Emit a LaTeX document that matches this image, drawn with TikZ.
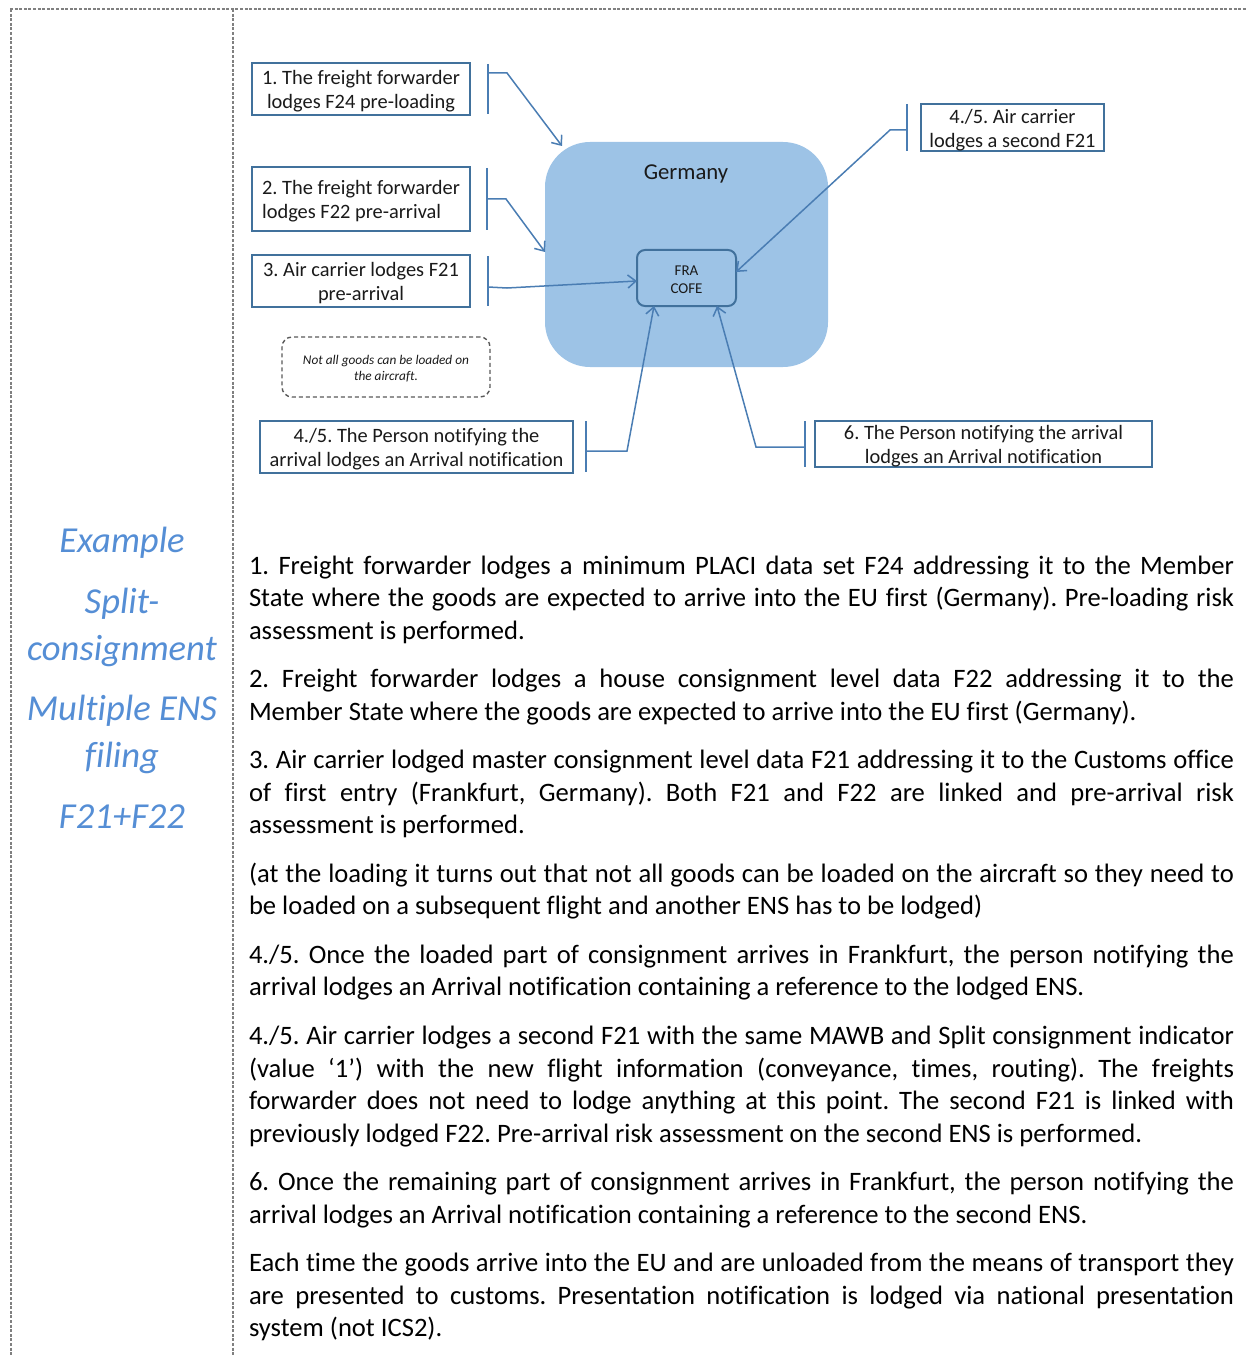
\documentclass[tikz,border=0pt]{standalone}
\usepackage{fontspec}
\setmainfont{Carlito}[Ligatures=NoCommon]
\usetikzlibrary{arrows.meta}

\definecolor{framegray}{HTML}{808080}
\definecolor{boxedge}{HTML}{41719C}
\definecolor{linkblue}{HTML}{4A7DB3}
\definecolor{landfill}{HTML}{9DC3E6}
\definecolor{titleblue}{HTML}{558ED5}
\definecolor{notegray}{HTML}{595959}
\definecolor{inktext}{HTML}{1A1A1A}

\begin{document}
\frenchspacing
\begin{tikzpicture}[x=1pt,y=-1pt,
  every node/.style={inner sep=0pt, outer sep=0pt},
  frame/.style={draw=framegray, line width=1.3pt, dash pattern=on 3pt off 1.6pt},
  title/.style={text=titleblue, font=\fontsize{36.6}{47}\selectfont\itshape, anchor=base},
  fbox/.style={draw=boxedge, line width=1.8pt, fill=white},
  btext/.style={align=center, text=inktext, font=\fontsize{20.4}{24}\selectfont},
  note/.style={draw=notegray, line width=1.4pt, dash pattern=on 4pt off 3pt,
    rounded corners=10pt},
  ntext/.style={align=center, text=inktext, font=\fontsize{13.3}{16}\selectfont\itshape},
  land/.style={fill=landfill, rounded corners=45pt},
  cofe/.style={draw=boxedge, line width=2pt, fill=landfill, rounded corners=8pt},
  ctext/.style={align=center, text=inktext, font=\fontsize{15}{18}\selectfont},
  bracket/.style={draw=linkblue, line width=1.8pt},
  link/.style={draw=linkblue, line width=1.5pt,
    -{Straight Barb[length=8pt,width=13pt]}}
]
\useasboundingbox (0,0) rectangle (1246,1356);

% table frame
\draw[frame] (10,9) -- (1246,9);
\draw[frame] (11,9) -- (11,1356);
\draw[frame] (233,9) -- (233,1356);

% left column heading
\node[title] (h1) at (122,552) {Example};
\node[title] (h2) at (122,613) {Split-};
\node[title] (h3) at (122,660) {consignment};
\node[title] (h4) at (122,720) {Multiple ENS};
\node[title] (h5) at (122,767) {filing};
\node[title] (h6) at (122,828) {F21+F22};

% member state and office of first entry
\node[land, minimum width=283pt, minimum height=225pt] (de) at (686.5,254.5) {};
\node[text=inktext, font=\fontsize{22.7}{27}\selectfont] (delabel) at (686,174) {\strut Germany};
\node[cofe, minimum width=99pt, minimum height=56pt] (fra) at (686.5,278) {};
\node[ctext] (frat) at ([yshift=-2pt]fra.center) {FRA\\COFE};

% filings: frames
\node[fbox, minimum width=218pt, minimum height=52pt] (ff24) at (361,89) {};
\node[fbox, minimum width=218pt, minimum height=64pt] (ff22) at (361,199) {};
\node[fbox, minimum width=218pt, minimum height=52pt] (ac21) at (361,281) {};
\node[note, minimum width=208pt, minimum height=60pt] (nt) at (386,367) {};
\node[fbox, minimum width=183pt, minimum height=47pt] (ac2) at (1012.5,127.5) {};
\node[fbox, minimum width=313pt, minimum height=52pt] (pn45) at (416.5,447) {};
\node[fbox, minimum width=337pt, minimum height=46pt] (pn6) at (983.5,444) {};

% filings: wording
\node[btext] (ff24t) at ([yshift=-2.5pt]ff24.center) {1. The freight forwarder\\lodges F24 pre-loading};
\node[btext, align=left] (ff22t) at ([yshift=-2.5pt]ff22.center) {2. The freight forwarder\\lodges F22 pre-arrival};
\node[btext] (ac21t) at ([yshift=-2.5pt]ac21.center) {3. Air carrier lodges F21\\pre-arrival};
\node[ntext] (ntt) at ([yshift=-2pt]nt.center) {Not all goods can be loaded on\\the aircraft.};
\node[btext] (ac2t) at ([yshift=-2.5pt]ac2.center) {4./5. Air carrier\\lodges a second F21};
\node[btext] (pn45t) at ([yshift=-2.5pt]pn45.center) {4./5. The Person notifying the\\arrival lodges an Arrival notification};
\node[btext] (pn6t) at ([yshift=-2.5pt]pn6.center) {6. The Person notifying the arrival\\lodges an Arrival notification};

% bracket ends and elbows
\coordinate (b1t) at (488,64);  \coordinate (b1b) at (488,114);
\coordinate (e1a) at (488,73);  \coordinate (e1b) at (507,73);
\coordinate (t1)  at (562,146);
\coordinate (b2t) at (487,168); \coordinate (b2b) at (487,230);
\coordinate (e2a) at (487,199); \coordinate (e2b) at (506,199);
\coordinate (b3t) at (488,256); \coordinate (b3b) at (488,306);
\coordinate (e3a) at (488,287); \coordinate (e3b) at (507,288);
\coordinate (b4t) at (907,104); \coordinate (b4b) at (907,151);
\coordinate (e4a) at (907,130); \coordinate (e4b) at (890,130);
\coordinate (b5t) at (586,421); \coordinate (b5b) at (586,472);
\coordinate (e5a) at (586,451); \coordinate (e5b) at (627,451);
\coordinate (b6t) at (805,421); \coordinate (b6b) at (805,467);
\coordinate (e6a) at (805,447); \coordinate (e6b) at (756,447);

\draw[bracket] (b1t) -- (b1b);
\draw[bracket] (b2t) -- (b2b);
\draw[bracket] (b3t) -- (b3b);
\draw[bracket] (b4t) -- (b4b);
\draw[bracket] (b5t) -- (b5b);
\draw[bracket] (b6t) -- (b6b);

\draw[link] (e1a) -- (e1b) -- (t1);
\draw[link] (e2a) -- (e2b) -- ([yshift=2.5pt]de.west);
\draw[link] (e3a) -- (e3b) -- ([yshift=-3pt]fra.west);
\draw[link] (e4a) -- (e4b) -- ([yshift=6pt]fra.east);
\draw[link] (e5a) -- (e5b) -- ([xshift=-32.5pt]fra.south);
\draw[link] (e6a) -- (e6b) -- ([xshift=30.5pt]fra.south);

% explanatory text
\node[anchor=north west, text width=985pt, align=justify,
  font=\fontsize{26.6}{32.5}\selectfont] (body) at (249,551.25) {%
\setlength{\parskip}{16.1pt}\hyphenpenalty=10000\exhyphenpenalty=10000
\hbadness=10000\tolerance=10000
\strut 1. Freight forwarder lodges a minimum PLACI data set F24 addressing it to the Member\linebreak
State where the goods are expected to arrive into the EU first (Germany). Pre-loading risk\linebreak
assessment is performed.\par
2. Freight forwarder lodges a house consignment level data F22 addressing it to the\linebreak
Member State where the goods are expected to arrive into the EU first (Germany).\par
3. Air carrier lodged master consignment level data F21 addressing it to the Customs office\linebreak
of first entry (Frankfurt, Germany). Both F21 and F22 are linked and pre-arrival risk\linebreak
assessment is performed.\par
(at the loading it turns out that not all goods can be loaded on the aircraft so they need to\linebreak
be loaded on a subsequent flight and another ENS has to be lodged)\par
4./5. Once the loaded part of consignment arrives in Frankfurt, the person notifying the\linebreak
arrival lodges an Arrival notification containing a reference to the lodged ENS.\par
4./5. Air carrier lodges a second F21 with the same MAWB and Split consignment indicator\linebreak
(value ‘1’) with the new flight information (conveyance, times, routing). The freights\linebreak
forwarder does not need to lodge anything at this point. The second F21 is linked with\linebreak
previously lodged F22. Pre-arrival risk assessment on the second ENS is performed.\par
6. Once the remaining part of consignment arrives in Frankfurt, the person notifying the\linebreak
arrival lodges an Arrival notification containing a reference to the second ENS.\par
Each time the goods arrive into the EU and are unloaded from the means of transport they\linebreak
are presented to customs. Presentation notification is lodged via national presentation\linebreak
system (not ICS2).};
\end{tikzpicture}
\end{document}
